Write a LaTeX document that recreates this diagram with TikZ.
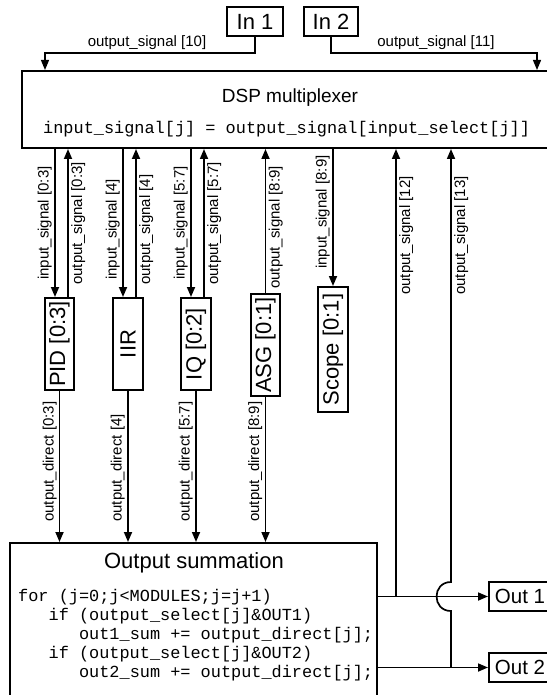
\documentclass[tikz,border=0pt]{standalone}
\usepackage{fontspec}
\setmainfont{Liberation Sans}
\setmonofont{Liberation Mono}
\usetikzlibrary{arrows.meta}
\tikzset{
  box/.style={draw, line width=2pt, inner sep=0pt, font=\fontsize{22}{24}\selectfont},
  ttl/.style={inner sep=0pt, font=\fontsize{19}{22}\selectfont},
  lbl/.style={inner sep=0pt, font=\fontsize{15}{17}\selectfont},
  codeln/.style={inner sep=0pt, anchor=west, font=\ttfamily\fontsize{16.9}{19}\selectfont},
  conn/.style={line width=1.7pt},
  thin conn/.style={line width=1.2pt},
  arr/.style={-{Triangle[length=10pt,width=8pt]}},
  outbox/.style={box, minimum width=62pt, minimum height=29pt, anchor=west, font=\fontsize{20.5}{23}\selectfont},
}
\begin{document}
\begin{tikzpicture}[x=1pt,y=-1pt]
\useasboundingbox (0,0) rectangle (546,695);
% inputs
\node[box, minimum width=56pt, minimum height=29pt] (in1) at (255,21.5) {In 1};
\node[box, minimum width=54pt, minimum height=29pt] (in2) at (331,21.5) {In 2};
% multiplexer
\node[box, minimum width=528pt, minimum height=77pt] (mux) at (286,109.5) {};
\node[ttl] (muxt) at (290,98) {DSP multiplexer};
\node[codeln] (muxc) at (43,129) {input\_signal[j] = output\_signal[input\_select[j]]};
% input connectors
\coordinate (c10) at (45,53);
\coordinate (c11) at (537,53);
\draw[thin conn, arr] (in1.south) |- (c10) -- (c10 |- mux.north);
\draw[thin conn, arr] (in2.south) |- (c11) -- (c11 |- mux.north);
\node[lbl, anchor=south] (l10) at (147,50) {output\_signal [10]};
\node[lbl, anchor=south] (l11) at (436,50) {output\_signal [11]};
% modules
\node[box, minimum width=29pt, minimum height=92pt] (pid) at (59.5,344) {\rotatebox{90}{PID [0:3]}};
\node[box, minimum width=30pt, minimum height=92pt] (iir) at (128,344) {\rotatebox{90}{IIR}};
\node[box, minimum width=30pt, minimum height=92pt] (iq) at (196,344) {\rotatebox{90}{IQ [0:2]}};
\node[box, minimum width=29pt, minimum height=102pt] (asg) at (265.5,345) {\rotatebox{90}{ASG [0:1]}};
\node[box, minimum width=30pt, minimum height=125pt] (scope) at (333,349.5) {\rotatebox{90}{Scope [0:1]}};
% summation
\node[box, minimum width=367pt, minimum height=167pt] (sum) at (193.5,626.5) {};
\node[ttl, font=\fontsize{22}{24}\selectfont] (sumt) at (194,563) {Output summation};
\node[codeln] (s1) at (18,597) {for (j=0;j<MODULES;j=j+1)};
\node[codeln] (s2) at (18,616) {\ \ \ if (output\_select[j]\&OUT1)};
\node[codeln] (s3) at (18,635) {\ \ \ \ \ \ out1\_sum += output\_direct[j];};
\node[codeln] (s4) at (18,654) {\ \ \ if (output\_select[j]\&OUT2)};
\node[codeln] (s5) at (18,673) {\ \ \ \ \ \ out2\_sum += output\_direct[j];};
% outputs
\node[outbox] (out1) at (488,596.5) {Out 1};
\node[outbox] (out2) at (488,667.5) {Out 2};
% module connectors
\foreach \m/\a/\b in {pid/-4.5/8.5, iir/-5/8, iq/-5/8} {
  \draw[conn, arr] ([xshift=\a pt]\m.north |- mux.south) -- ([xshift=\a pt]\m.north);
  \draw[conn, arr] ([xshift=\b pt]\m.north) -- ([xshift=\b pt]\m.north |- mux.south);
}
\draw[conn, arr] (asg.north) -- (asg.north |- mux.south);
\draw[conn, arr] (scope.north |- mux.south) -- (scope.north);
\foreach \m in {pid, iir, iq, asg} {
  \draw[conn, arr] (\m.south) -- (\m.south |- sum.north);
}
% labels
\node[lbl, rotate=90, anchor=south west] (la1) at (52,280) {input\_signal [0:3]};
\node[lbl, rotate=90, anchor=north west] (la2) at (71,285) {output\_signal [0:3]};
\node[lbl, rotate=90, anchor=south west] (la3) at (120,280) {input\_signal [4]};
\node[lbl, rotate=90, anchor=north west] (la4) at (139,285) {output\_signal [4]};
\node[lbl, rotate=90, anchor=south west] (la5) at (188,280) {input\_signal [5:7]};
\node[lbl, rotate=90, anchor=north west] (la6) at (207,285) {output\_signal [5:7]};
\node[lbl, rotate=90, anchor=north west] (la7) at (268.5,289) {output\_signal [8:9]};
\node[lbl, rotate=90, anchor=south west] (la8) at (330,269) {input\_signal [8:9]};
\node[lbl, rotate=90, anchor=north west] (la9) at (399,295) {output\_signal [12]};
\node[lbl, rotate=90, anchor=north west] (la10) at (454,295) {output\_signal [13]};
\node[lbl, rotate=90, anchor=south west] (ld1) at (57,522) {output\_direct [0:3]};
\node[lbl, rotate=90, anchor=south west] (ld2) at (125,522) {output\_direct [4]};
\node[lbl, rotate=90, anchor=south west] (ld3) at (193,522) {output\_direct [5:7]};
\node[lbl, rotate=90, anchor=south west] (ld4) at (262.5,522) {output\_direct [8:9]};
% output connectors
\coordinate (j12) at (396,596.5);
\coordinate (j13) at (451,667.5);
\coordinate (hopA) at (451,611);
\coordinate (hopB) at (451,582);
\draw[conn, arr] (sum.east |- out1.west) -- (out1.west);
\draw[conn, arr] (sum.east |- out2.west) -- (out2.west);
\draw[conn, arr] (j12) -- (j12 |- mux.south);
\draw[conn, arr] (j13) -- (hopA) .. controls (431.7,611) and (431.7,582) .. (hopB) -- (hopB |- mux.south);
\end{tikzpicture}
\end{document}
